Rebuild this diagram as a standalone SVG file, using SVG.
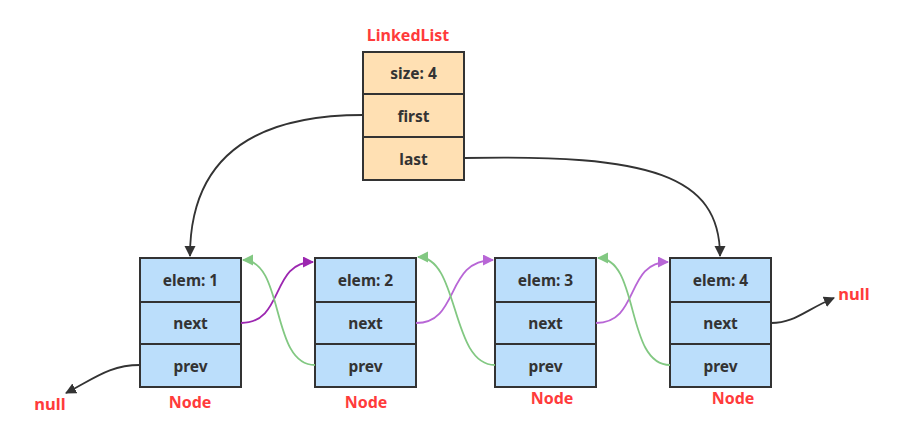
<svg xmlns="http://www.w3.org/2000/svg" width="922" height="431" viewBox="0 0 922 431">
<style>
.box{stroke:#333;stroke-width:2}
.ll{fill:#FFE0B3}
.nd{fill:#BBDEFB}
.t{font-family:"Noto Sans","Open Sans",sans-serif;font-weight:bold;font-size:15.5px;fill:#333;text-anchor:middle;dominant-baseline:central}
.r{font-family:"Noto Sans","Open Sans",sans-serif;font-weight:bold;font-size:16px;fill:#FF3B3B;text-anchor:middle;dominant-baseline:central}
.n{font-size:16.5px}
.blk{fill:none;stroke:#333;stroke-width:1.8}
.pur{fill:none;stroke:#9C27B0;stroke-width:1.8}
.lpur{fill:none;stroke:#B866D6;stroke-width:1.8}
.grn{fill:none;stroke:#82C882;stroke-width:1.8}
</style>
<defs>
<marker id="ab" markerWidth="12" markerHeight="12" refX="10" refY="5.5" orient="auto" markerUnits="userSpaceOnUse"><path d="M0,0 L11,5.5 L0,11 z" fill="#333"/></marker>
<marker id="ap" markerWidth="12" markerHeight="12" refX="10" refY="5.5" orient="auto" markerUnits="userSpaceOnUse"><path d="M0,0 L11,5.5 L0,11 z" fill="#9C27B0"/></marker>
<marker id="alp" markerWidth="12" markerHeight="12" refX="10" refY="5.5" orient="auto" markerUnits="userSpaceOnUse"><path d="M0,0 L11,5.5 L0,11 z" fill="#B866D6"/></marker>
<marker id="ag" markerWidth="12" markerHeight="12" refX="10" refY="5.5" orient="auto" markerUnits="userSpaceOnUse"><path d="M0,0 L11,5.5 L0,11 z" fill="#82C882"/></marker>
</defs>
<rect width="922" height="431" fill="#fff"/>

<g id="linkedlist">
<text class="r" x="408" y="35">LinkedList</text>
<rect class="box ll" x="363" y="52" width="101" height="42"/>
<rect class="box ll" x="363" y="94" width="101" height="43"/>
<rect class="box ll" x="363" y="137" width="101" height="43"/>
<text class="t" x="413.5" y="73">size: 4</text>
<text class="t" x="413.5" y="115.5">first</text>
<text class="t" x="413.5" y="158.5">last</text>
</g>

<g id="node1">
<rect class="box nd" x="140" y="258" width="101" height="44"/>
<rect class="box nd" x="140" y="302" width="101" height="42"/>
<rect class="box nd" x="140" y="344" width="101" height="43"/>
<text class="t" x="190.5" y="280">elem: 1</text>
<text class="t" x="190.5" y="323">next</text>
<text class="t" x="190.5" y="365.5">prev</text>
<text class="r" x="190" y="402">Node</text>
</g>
<g id="node2">
<rect class="box nd" x="315" y="258" width="101" height="44"/>
<rect class="box nd" x="315" y="302" width="101" height="42"/>
<rect class="box nd" x="315" y="344" width="101" height="43"/>
<text class="t" x="365.5" y="280">elem: 2</text>
<text class="t" x="365.5" y="323">next</text>
<text class="t" x="365.5" y="365.5">prev</text>
<text class="r" x="366" y="402">Node</text>
</g>
<g id="node3">
<rect class="box nd" x="495" y="258" width="101" height="44"/>
<rect class="box nd" x="495" y="302" width="101" height="42"/>
<rect class="box nd" x="495" y="344" width="101" height="43"/>
<text class="t" x="545.5" y="280">elem: 3</text>
<text class="t" x="545.5" y="323">next</text>
<text class="t" x="545.5" y="365.5">prev</text>
<text class="r" x="552" y="398">Node</text>
</g>
<g id="node4">
<rect class="box nd" x="670" y="258" width="101" height="44"/>
<rect class="box nd" x="670" y="302" width="101" height="42"/>
<rect class="box nd" x="670" y="344" width="101" height="43"/>
<text class="t" x="720.5" y="280">elem: 4</text>
<text class="t" x="720.5" y="323">next</text>
<text class="t" x="720.5" y="365.5">prev</text>
<text class="r" x="733" y="398">Node</text>
</g>

<g id="null-right"><text class="r n" x="854" y="293">null</text></g>
<g id="null-left"><text class="r n" x="50" y="403">null</text></g>

<g id="connectors">
<path class="blk" d="M363,115 C250,115 190,160 190,256" marker-end="url(#ab)"/>
<path class="blk" d="M464,158 C650,154 720,175 720,256" marker-end="url(#ab)"/>
<path class="pur" d="M241,323 C285,323 270,262 313,262" marker-end="url(#ap)"/>
<path class="lpur" d="M416,323 C460,323 445,260 493,260" marker-end="url(#alp)"/>
<path class="lpur" d="M596,323 C640,323 625,262 668,262" marker-end="url(#alp)"/>
<path class="grn" d="M315,365 C270,365 285,260 243,260" marker-end="url(#ag)"/>
<path class="grn" d="M495,365 C450,365 460,257 418,257" marker-end="url(#ag)"/>
<path class="grn" d="M670,365 C625,365 640,258 598,258" marker-end="url(#ag)"/>
<path class="blk" d="M771,323 C795,323 805,310 834,298" marker-end="url(#ab)"/>
<path class="blk" d="M140,365 C110,365 95,378 66,393" marker-end="url(#ab)"/>
</g>
</svg>
